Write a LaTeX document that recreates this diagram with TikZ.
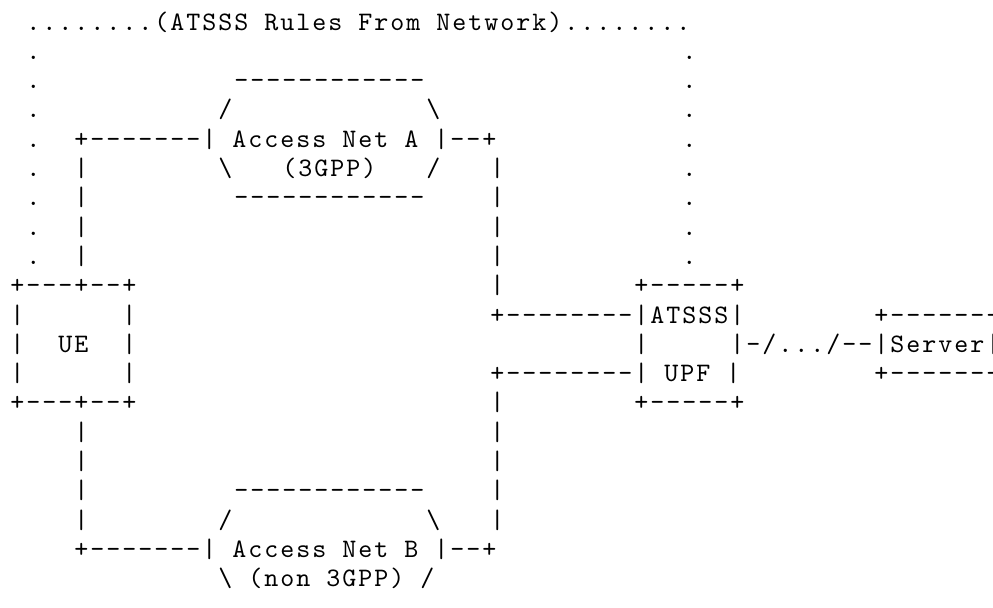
\documentclass[tikz,border=0pt]{standalone}
\usepackage{fontspec}
\setmonofont{lmmono10-regular.otf}[LetterSpace=7.5]
\usepackage{tikz}

\begin{document}
\begin{tikzpicture}[x=12pt, y=-21.975pt]

% =======================================================
% Layout parameters (one unit = one character cell)
% =======================================================
\def\leftcol{-0.58125}   % left margin
\def\rightcol{61.48125}  % right edge (Server box runs off)
\def\toprow{-1.024}
\def\botrow{19.693}

% =======================================================
% Styles
% =======================================================
\tikzset{
  ascii/.style = {font=\ttfamily\fontsize{20pt}{24pt}\selectfont,
                  anchor=base west, inner sep=0pt, outer sep=0pt,
                  xshift=0.75pt, black},
}

\useasboundingbox (\leftcol,\toprow) rectangle (\rightcol,\botrow);

% =======================================================
% ATSSS rules frame (dotted)
% =======================================================
\node[ascii] (rules) at (1,0) {........(ATSSS Rules From Network)........};
\foreach \r in {1,...,8} {
  \node[ascii] (dotL\r) at (1,\r)  {.};
  \node[ascii] (dotR\r) at (42,\r) {.};
}

% =======================================================
% Access Net A (3GPP)
% =======================================================
\node[ascii] (netAtop) at (14,2) {------------};
\node[ascii] (netAnw)  at (13,3) {/};
\node[ascii] (netAne)  at (26,3) {\textbackslash};
\node[ascii] (netA)    at (4,4)  {+-------| Access Net A |--+};
\node[ascii] (netAsw)  at (13,5) {\textbackslash};
\node[ascii] (netAsub) at (17,5) {(3GPP)};
\node[ascii] (netAse)  at (26,5) {/};
\node[ascii] (netAbot) at (14,6) {------------};

% vertical legs
\foreach \r in {5,...,8,14,15,16,17} {
  \node[ascii] (legL\r) at (4,\r) {|};
}
\foreach \r in {5,...,9,13,14,15,16,17} {
  \node[ascii] (legR\r) at (30,\r) {|};
}

% =======================================================
% UE
% =======================================================
\node[ascii] (uetop) at (0,9) {+---+--+};
\foreach \r in {10,11,12} {
  \node[ascii] (ueL\r) at (0,\r) {|};
  \node[ascii] (ueR\r) at (7,\r) {|};
}
\node[ascii] (ue)    at (3,11) {UE};
\node[ascii] (uebot) at (0,13) {+---+--+};

% =======================================================
% ATSSS UPF
% =======================================================
\node[ascii] (upftop) at (39,9)  {+-----+};
\node[ascii] (linkA)  at (30,10) {+--------|ATSSS|};
\node[ascii] (upfL)   at (39,11) {|};
\node[ascii] (wan)    at (45,11) {|-/.../--|Server|};
\node[ascii] (linkB)  at (30,12) {+--------| UPF |};
\node[ascii] (upfbot) at (39,13) {+-----+};

% Server box (cut at the right border)
\node[ascii] (srvtop) at (54,10) {+-------};
\node[ascii] (srvbot) at (54,12) {+-------};

% =======================================================
% Access Net B (non 3GPP)
% =======================================================
\node[ascii] (netBtop) at (14,16) {------------};
\node[ascii] (netBnw)  at (13,17) {/};
\node[ascii] (netBne)  at (26,17) {\textbackslash};
\node[ascii] (netB)    at (4,18)  {+-------| Access Net B |--+};
\node[ascii] (netBsub) at (13,19) {\textbackslash{} (non 3GPP) /};

\end{tikzpicture}
\end{document}
